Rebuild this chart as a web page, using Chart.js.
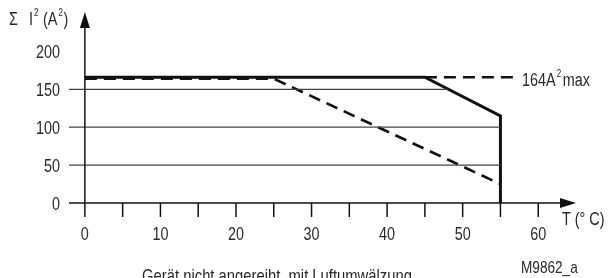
<!DOCTYPE html>
<html><head><meta charset="utf-8">
<script src="https://cdn.jsdelivr.net/npm/chart.js@4"></script>
<style>html,body{margin:0;padding:0;background:#fff}#c{display:block}</style>
</head><body>
<canvas id="c" width="611" height="278"></canvas>
<script>
// ---- data ----
const xTickLabels = ['0','10','20','30','40','50','60'];
const xTickValues = [0,10,20,30,40,50,60];
const xTickMarks = [0,5,10,15,20,25,30,35,40,45,50,55,60];
const yTickLabels = ['0','50','100','150','200'];
const yTickValues = [0,50,100,150,200];
const gridValues = [50,100,150];
const gridEnds = [55,55,48];          // where each grid line meets the solid curve
const solidX = [0,45,55,55];
const solidY = [166,166,115,0];
const dashedX = [0,25,55];
const dashedY = [164,164,25];
const maxLineX = [45,57];
const maxLineY = [166,166];
const maxLabel = '164A';
// ---------------

const FONT = '"Liberation Sans",Arial,sans-serif';
const SX = 0.8;
const XMIN = -2.1, XMAX = 65, YMIN = 0, YMAX = 252;

const pts = (xs, ys) => xs.map((x,i)=>({x, y: ys[i]}));
const datasets = [];
gridValues.forEach((g,i)=>{
  datasets.push({data:[{x:XMIN,y:g},{x:gridEnds[i],y:g}], borderColor:'#444', borderWidth:1.2, pointRadius:0, showLine:true, fill:false});
});
datasets.push({data:pts(dashedX,dashedY), borderColor:'#111', borderWidth:2.6, borderDash:[12,7], pointRadius:0, showLine:true, fill:false});
datasets.push({data:pts(maxLineX,maxLineY), borderColor:'#111', borderWidth:2.6, borderDash:[12,7], pointRadius:0, showLine:true, fill:false});
datasets.push({data:pts(solidX,solidY), borderColor:'#111', borderWidth:3, pointRadius:0, showLine:true, fill:false, borderJoinStyle:'miter'});

function txt(ctx, s, x, y, size, align){
  ctx.save();
  ctx.font = size+'px '+FONT;
  const w = ctx.measureText(s).width*SX;
  let left = x;
  if(align==='center') left = x - w/2; else if(align==='right') left = x - w;
  ctx.translate(left, y); ctx.scale(SX,1);
  ctx.textAlign='left';
  ctx.fillText(s, 0, 0);
  ctx.restore();
  return w;
}

const deco = {
  id:'deco',
  afterDatasetsDraw(chart){
    const ctx = chart.ctx, xs = chart.scales.x, ys = chart.scales.y;
    const X = v=>xs.getPixelForValue(v), Y = v=>ys.getPixelForValue(v);
    ctx.save();
    ctx.strokeStyle = '#111'; ctx.fillStyle = '#111'; ctx.lineWidth = 1.5;
    const x0 = X(0), y0 = Y(0);
    ctx.beginPath(); ctx.moveTo(X(XMIN), y0); ctx.lineTo(X(XMAX)-12, y0); ctx.stroke();
    ctx.beginPath(); ctx.moveTo(x0, y0); ctx.lineTo(x0, Y(YMAX)+14); ctx.stroke();
    ctx.beginPath(); ctx.moveTo(X(XMAX), y0); ctx.lineTo(X(XMAX)-16, y0-5); ctx.lineTo(X(XMAX)-16, y0+5); ctx.closePath(); ctx.fill();
    ctx.beginPath(); ctx.moveTo(x0, Y(YMAX)); ctx.lineTo(x0-5, Y(YMAX)+16); ctx.lineTo(x0+5, Y(YMAX)+16); ctx.closePath(); ctx.fill();
    xTickMarks.forEach(v=>{ ctx.beginPath(); ctx.moveTo(X(v), y0); ctx.lineTo(X(v), y0+14); ctx.stroke(); });
    ctx.fillStyle = '#2a2a2a';
    ctx.textBaseline = 'alphabetic';
    xTickValues.forEach((v,i)=> txt(ctx, xTickLabels[i], X(v), y0+37, 18, 'center'));
    yTickValues.forEach((v,i)=> txt(ctx, yTickLabels[i], 60, Y(v)+7, 18, 'right'));
    // y title  Σ I² (A²)
    const by = 25;
    txt(ctx, 'Σ', 9, by, 18, 'left');
    txt(ctx, 'I', 29, by, 18, 'left');
    txt(ctx, '2', 34, by-9, 10, 'left');
    let w = txt(ctx, '(A', 43, by, 18, 'left');
    txt(ctx, '2', 43+w+1, by-9, 10, 'left');
    txt(ctx, ')', 43+w+6, by, 18, 'left');
    // x title
    txt(ctx, 'T (° C)', 562, 225, 18, 'left');
    // max label
    const my = 86;
    w = txt(ctx, maxLabel, 522, my, 18, 'left');
    txt(ctx, '2', 522+w+1, my-9, 10, 'left');
    txt(ctx, 'max', 522+w+7, my, 18, 'left');
    // footer
    txt(ctx, 'M9862_a', 521, 273, 17, 'left');
    txt(ctx, 'Gerät nicht angereiht, mit Luftumwälzung', 277, 282, 18.5, 'center');
    ctx.restore();
  }
};

new Chart(document.getElementById('c'), {
  type:'scatter',
  data:{datasets},
  options:{
    responsive:false, animation:false,
    layout:{padding:{left:69, right:35, top:12, bottom:75}},
    plugins:{legend:{display:false}, tooltip:{enabled:false}},
    scales:{
      x:{type:'linear', min:XMIN, max:XMAX, display:false},
      y:{type:'linear', min:YMIN, max:YMAX, display:false}
    },
    elements:{line:{tension:0}}
  },
  plugins:[deco]
});
</script>
</body></html>
